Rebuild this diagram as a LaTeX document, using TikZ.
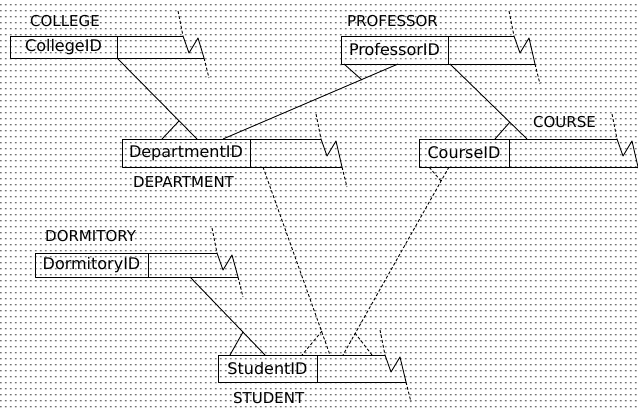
\documentclass[tikz,border=0pt]{standalone}
\usepackage{fontspec}
\setmainfont{DejaVu Sans}
\usetikzlibrary{patterns}
\pgfdeclarepatternformonly{scandots}{\pgfqpoint{0pt}{0pt}}{\pgfqpoint{5pt}{6pt}}{\pgfqpoint{5pt}{6pt}}{%
  \pgfpathrectangle{\pgfqpoint{1pt}{2pt}}{\pgfqpoint{2pt}{1.3pt}}\pgfusepath{fill}}
\newcommand\erbox[7]{% name, left, top, bottom, divider, break x, key text
  \coordinate (#1-tl) at (#2,#3);
  \coordinate (#1-bl) at (#2,#4);
  \coordinate (#1-dt) at (#5,#3);
  \coordinate (#1-db) at (#5,#4);
  \coordinate (#1-tr) at (#6,#3);
  \coordinate (#1-br) at ({#6+21},#4);
  \coordinate (#1-lead) at ({#6-5},{#3-25});
  \coordinate (#1-v) at ({#6+6},{#3+17});
  \coordinate (#1-pk) at ({#6+15},{#3+2});
  \coordinate (#1-tail) at ({#6+26},{#4+20});
  \draw[boxline] (#1-tr) -- (#1-tl) -- (#1-bl) -- (#1-br);
  \draw[boxline] (#1-dt) -- (#1-db);
  \node[keytext] (#1-key) at ({(#2+#5)/2},{(#3+#4)/2}) {#7};
  \draw[brk] (#1-lead) -- (#1-tr);
  \draw[boxline] (#1-tr) -- (#1-v) -- (#1-pk) -- (#1-br);
  \draw[brk] (#1-br) -- (#1-tail);
}
\tikzset{
  boxline/.style={line width=0.9pt, black, line join=round},
  brk/.style={line width=0.9pt, black, densely dashed},
  conn/.style={line width=0.9pt, black},
  dconn/.style={line width=0.9pt, black, densely dashed},
  keytext/.style={font=\fontsize{16}{16}\selectfont, inner sep=0pt},
  lbl/.style={font=\fontsize{15}{15}\selectfont, inner sep=0pt, anchor=west}
}
\begin{document}
\begin{tikzpicture}[x=1pt,y=-1pt]
\useasboundingbox (0,0) rectangle (638,409);
\clip (0,0) rectangle (638,409);
\fill[pattern=scandots, pattern color=black!55] (0,0) rectangle (638,409);

% tables
\erbox{college}{10}{36}{58}{117}{183}{CollegeID}
\erbox{professor}{341}{36}{64}{448}{514}{ProfessorID}
\erbox{department}{122}{139}{167}{250}{321}{DepartmentID}
\erbox{course}{419}{139}{167}{509}{617}{CourseID}
\erbox{dormitory}{35}{253}{277}{148}{217}{DormitoryID}
\erbox{student}{218}{355}{382}{317}{385}{StudentID}

% table names
\node[lbl] (collegelbl) at (30,21) {COLLEGE};
\node[lbl] (professorlbl) at (347,21) {PROFESSOR};
\node[lbl] (departmentlbl) at (133,182) {DEPARTMENT};
\node[lbl] (courselbl) at (533,122) {COURSE};
\node[lbl] (dormitorylbl) at (45,236) {DORMITORY};
\node[lbl] (studentlbl) at (233,398) {STUDENT};

% connector end points
\coordinate (c1a) at (117,58);
\coordinate (c1b) at (197,139);
\coordinate (c1s) at (179,121);
\coordinate (c1p) at (162,139);

\coordinate (c2a) at (398,64);
\coordinate (c2b) at (223,139);
\coordinate (c2s) at (362,80);
\coordinate (c2p) at (344,64);

\coordinate (c3a) at (450,64);
\coordinate (c3b) at (527,139);
\coordinate (c3s) at (510,122);
\coordinate (c3p) at (495,139);

\coordinate (c4a) at (263,167);
\coordinate (c4b) at (330,355);
\coordinate (c4s) at (322,331);
\coordinate (c4p) at (302,355);

\coordinate (c5a) at (190,277);
\coordinate (c5b) at (265,355);
\coordinate (c5s) at (243,332);
\coordinate (c5p) at (230,355);

\coordinate (c6a) at (449,167);
\coordinate (c6b) at (343,355);
\coordinate (c6s1) at (441,181);
\coordinate (c6p1) at (429,167);
\coordinate (c6s2) at (355,333);
\coordinate (c6p2) at (372,355);

% connectors
\draw[conn] (c1a) -- (c1b);
\draw[conn] (c1s) -- (c1p);
\draw[conn] (c2a) -- (c2b);
\draw[conn] (c2s) -- (c2p);
\draw[conn] (c3a) -- (c3b);
\draw[conn] (c3s) -- (c3p);
\draw[dconn] (c4a) -- (c4b);
\draw[dconn] (c4s) -- (c4p);
\draw[conn] (c5a) -- (c5b);
\draw[conn] (c5s) -- (c5p);
\draw[dconn] (c6a) -- (c6b);
\draw[dconn] (c6s1) -- (c6p1);
\draw[dconn] (c6s2) -- (c6p2);
\end{tikzpicture}
\end{document}
